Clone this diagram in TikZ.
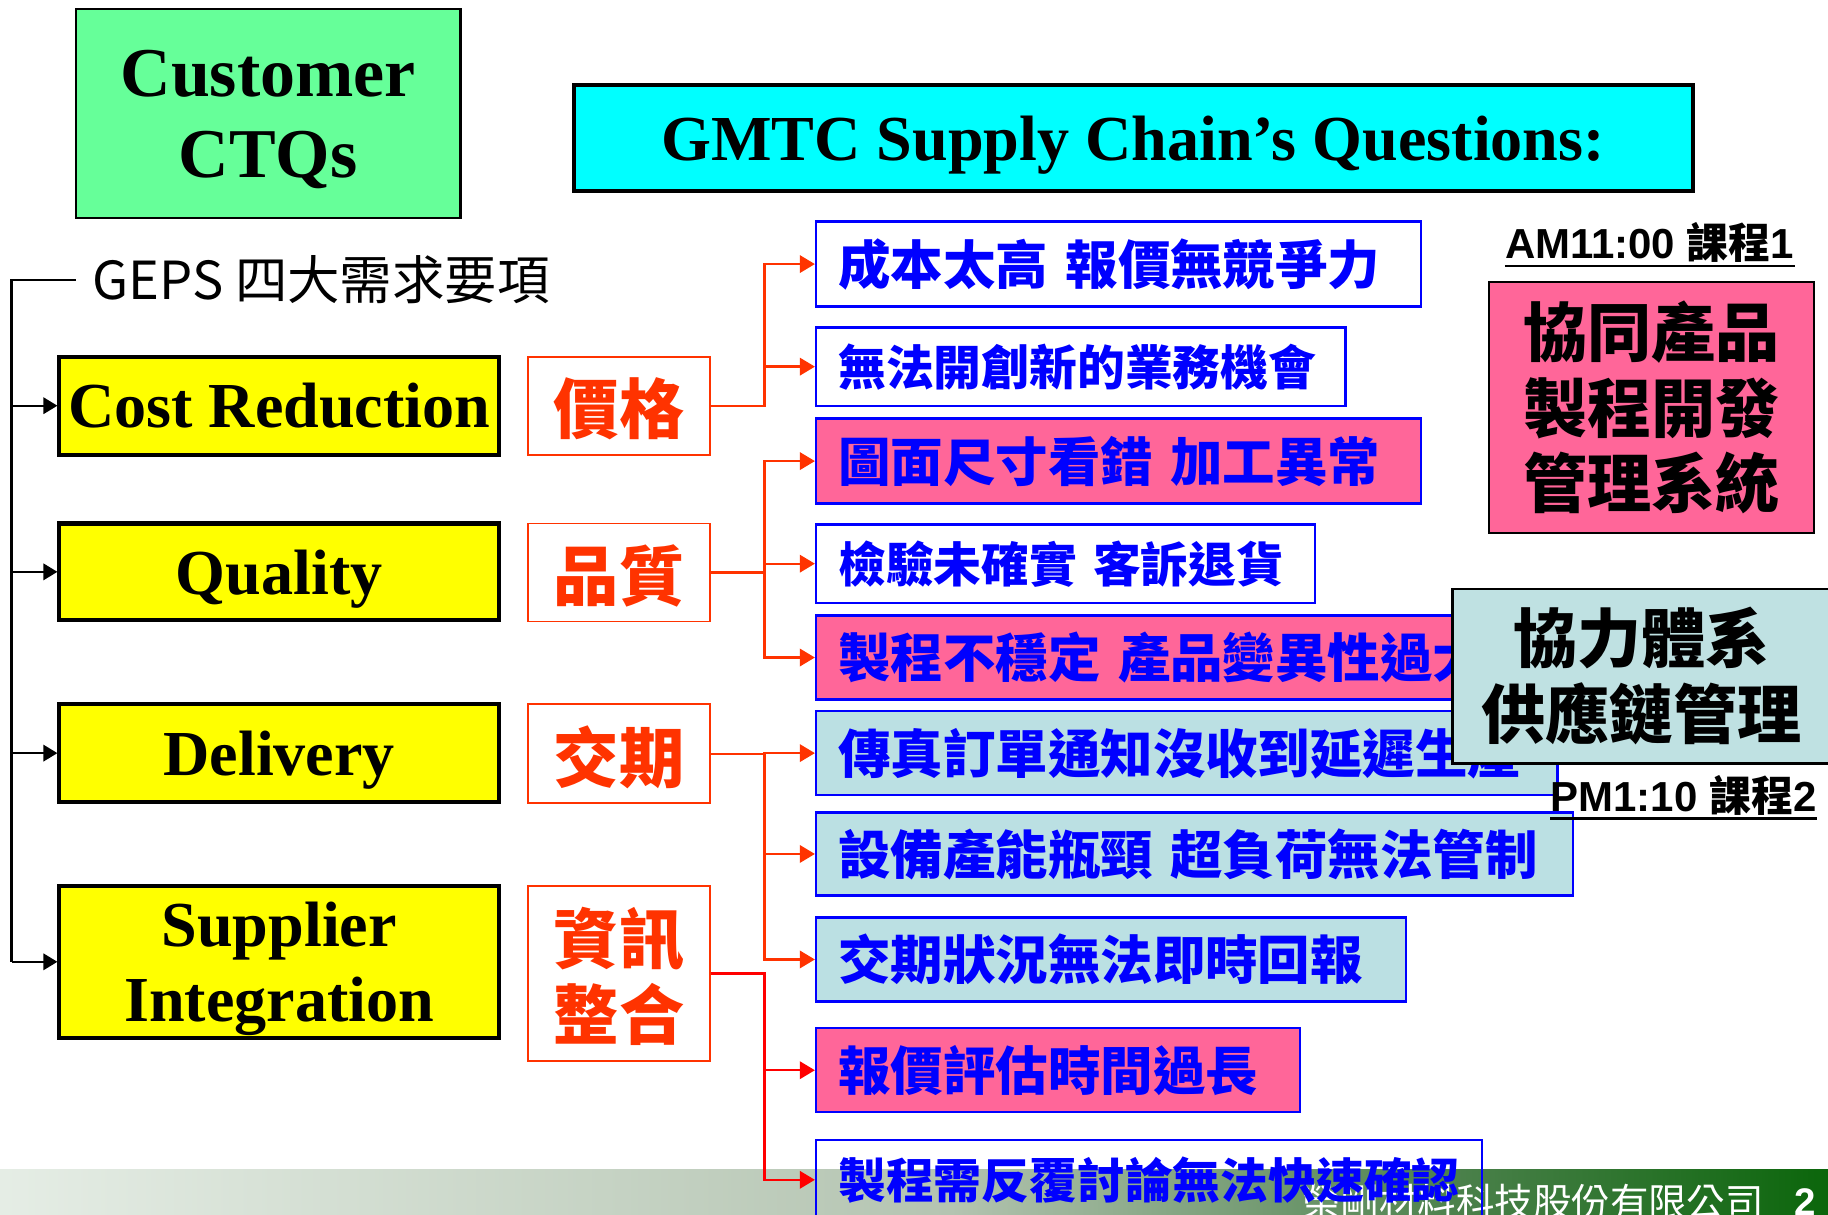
\documentclass[tikz,border=0pt]{standalone}
\usepackage{fontspec}
\setmainfont{Liberation Serif}
\newfontfamily\cjk{Noto Sans CJK TC}
\newfontfamily\arialfont{Liberation Sans}
\usetikzlibrary{arrows.meta}

\definecolor{ctqgreen}{HTML}{66FF99}
\definecolor{titlecyan}{HTML}{00FFFF}
\definecolor{needyellow}{HTML}{FFFF00}
\definecolor{keyred}{HTML}{FF3300}
\definecolor{qblue}{HTML}{0000FF}
\definecolor{qpink}{HTML}{FF6699}
\definecolor{qteal}{HTML}{BBE0E3}
\definecolor{supteal}{HTML}{BFE1E2}
\definecolor{footlight}{HTML}{E5EDE5}
\definecolor{footmid}{HTML}{B4C4B1}
\definecolor{footdeep}{HTML}{4A804A}
\definecolor{footdark}{HTML}{0B660B}

% the path is mapped onto 25bp..75bp of the shading
\pgfdeclarehorizontalshading{footband}{100bp}{color(0bp)=(footlight); color(25bp)=(footlight); color(51bp)=(footmid); color(65bp)=(footdeep); color(75bp)=(footdark); color(100bp)=(footdark)}

\tikzset{
  ctqbox/.style={draw, line width=2pt, fill=ctqgreen, align=center, text depth=0pt,
    font=\bfseries\fontsize{60}{70}\selectfont},
  titlebox/.style={draw, line width=3.5pt, fill=titlecyan, text depth=0pt,
    font=\bfseries\fontsize{55}{55}\selectfont},
  needbox/.style={draw, line width=3.5pt, fill=needyellow, align=center,
    minimum width=377pt, inner sep=0pt, text depth=0pt,
    font=\bfseries\fontsize{55}{65}\selectfont},
  keybox/.style={draw=keyred, line width=1.5pt, fill=white, text=keyred,
    minimum width=156pt, align=center, inner sep=0pt, text depth=0pt,
    font=\cjk\bfseries\fontsize{56}{65}\selectfont},
  qbox/.style={draw=qblue, line width=2pt, text=qblue, anchor=west,
    inner xsep=19pt, align=left,
    font=\cjk\bfseries\fontsize{45}{45}\selectfont},
  smallq/.style={font=\cjk\bfseries\fontsize{41}{41}\selectfont},
  coursebox/.style={draw, line width=2pt, align=center,
    font=\cjk\bfseries\fontsize{55}{65}\selectfont},
  session/.style={inner xsep=0pt, anchor=base,
    font=\arialfont\bfseries\fontsize{36}{36}\selectfont},
  keyarrow/.style={draw=keyred, line width=2pt,
    -{Triangle[length=13pt,width=15pt]}},
  railarrow/.style={line width=2pt, -{Triangle[length=12pt,width=14pt]}}
}

\begin{document}
\begin{tikzpicture}[x=1pt,y=-1pt]
  \useasboundingbox (0,0) rectangle (1568,1042);

  % Footer
  \shade[shading=footband] (0,1003) rectangle (1568,1042);
  \node[text=white, font=\cjk\fontsize{33}{33}\selectfont] (company) at (1315,1031) {榮剛材料科技股份有限公司};
  \node[text=white, font=\arialfont\bfseries\fontsize{33}{33}\selectfont] (pageno) at (1548,1031) {2};

  % Headings
  \node[ctqbox, minimum width=330pt, minimum height=179pt] (ctq) at (230,97.5) {Customer\\CTQs};
  \node[titlebox, minimum width=960pt, minimum height=91pt] (title) at (972,118.5) {GMTC Supply Chain’s Questions:};
  \node[anchor=west, inner xsep=14pt, font=\cjk\fontsize{45}{45}\selectfont] (geps) at (65,240) {GEPS 四大需求要項};

  % Customer needs
  \node[needbox, minimum height=84pt] (cost) at (239.5,348) {Cost Reduction};
  \node[needbox, minimum height=83pt] (quality) at (239.5,490.5) {Quality};
  \node[needbox, minimum height=84pt] (delivery) at (239.5,646) {Delivery};
  \node[needbox, minimum height=130pt] (supp) at (239.5,825) {Supplier\\Integration};

  % Key words
  \node[keybox, minimum height=84pt] (price) at (531,348) {價格};
  \node[keybox, minimum height=84pt] (qual) at (531,491) {品質};
  \node[keybox, minimum height=85pt] (lead) at (531,646.5) {交期};
  \node[keybox, minimum height=150pt] (info) at (531,835) {資訊\\整合};

  % Questions
  \node[qbox, fill=white, text width=481pt, minimum height=73pt] (q1) at (699,226.5) {成本太高~報價無競爭力};
  \node[qbox, smallq, fill=white, text width=416pt, minimum height=67pt] (q2) at (699,314.5) {無法開創新的業務機會};
  \node[qbox, fill=qpink, text width=481pt, minimum height=73pt] (q3) at (699,395.5) {圖面尺寸看錯~加工異常};
  \node[qbox, smallq, fill=white, text width=390pt, minimum height=67pt] (q4) at (699,483.5) {檢驗未確實~客訴退貨};
  \node[qbox, fill=qpink, text width=563pt, minimum height=72pt] (q5) at (699,564) {製程不穩定~產品變異性過大};
  \node[qbox, fill=qteal, text width=598pt, minimum height=72pt] (q6) at (699,646) {傳真訂單通知沒收到延遲生產};
  \node[qbox, fill=qteal, text width=611pt, minimum height=71pt] (q7) at (699,732.5) {設備產能瓶頸~超負荷無法管制};
  \node[qbox, fill=qteal, text width=468pt, minimum height=72pt] (q8) at (699,823) {交期狀況無法即時回報};
  \node[qbox, fill=qpink, text width=377pt, minimum height=72pt] (q9) at (699,918) {報價評估時間過長};
  \node[qbox, smallq, text width=533pt, minimum height=68pt] (q10) at (699,1012) {製程需反覆討論無法快速確認};

  % Courses
  \node[session] (am) at (1415,222) {AM11:00 {\cjk 課程}1};
  \draw[line width=2pt] ([yshift=-6pt]am.base west) -- ([yshift=-6pt]am.base east);
  \node[coursebox, fill=qpink, minimum width=279pt, minimum height=215pt] (cpd) at (1416.5,349.5) {協同產品\\製程開發\\管理系統};
  \node[coursebox, fill=supteal, minimum width=324pt, minimum height=150pt] (scm) at (1408,580) {協力體系\\供應鏈管理};
  \node[session] (pm) at (1444,696) {PM1:10 {\cjk 課程}2};
  \draw[line width=2pt] ([yshift=-6pt]pm.base west) -- ([yshift=-6pt]pm.base east);

  % Rail to the needs
  \coordinate (rail) at (10,240);
  \draw[line width=2pt] (geps.west) -- (rail) -- (rail |- supp.west);
  \foreach \n in {cost,quality,delivery,supp}
    \draw[railarrow] (rail |- \n.west) -- (\n.west);

  % Branches to the questions
  \foreach \q in {q1,q2}
    \draw[keyarrow] (price.east) -- ++(46,0) |- (\q.west);
  \foreach \q in {q3,q4,q5}
    \draw[keyarrow] (qual.east) -- ++(46,0) |- (\q.west);
  \foreach \q in {q6,q7,q8}
    \draw[keyarrow] (lead.east) -- ++(46,0) |- (\q.west);
  \foreach \q in {q9,q10}
    \draw[keyarrow, draw=red] (info.east) -- ++(46,0) |- (\q.west);
\end{tikzpicture}
\end{document}
